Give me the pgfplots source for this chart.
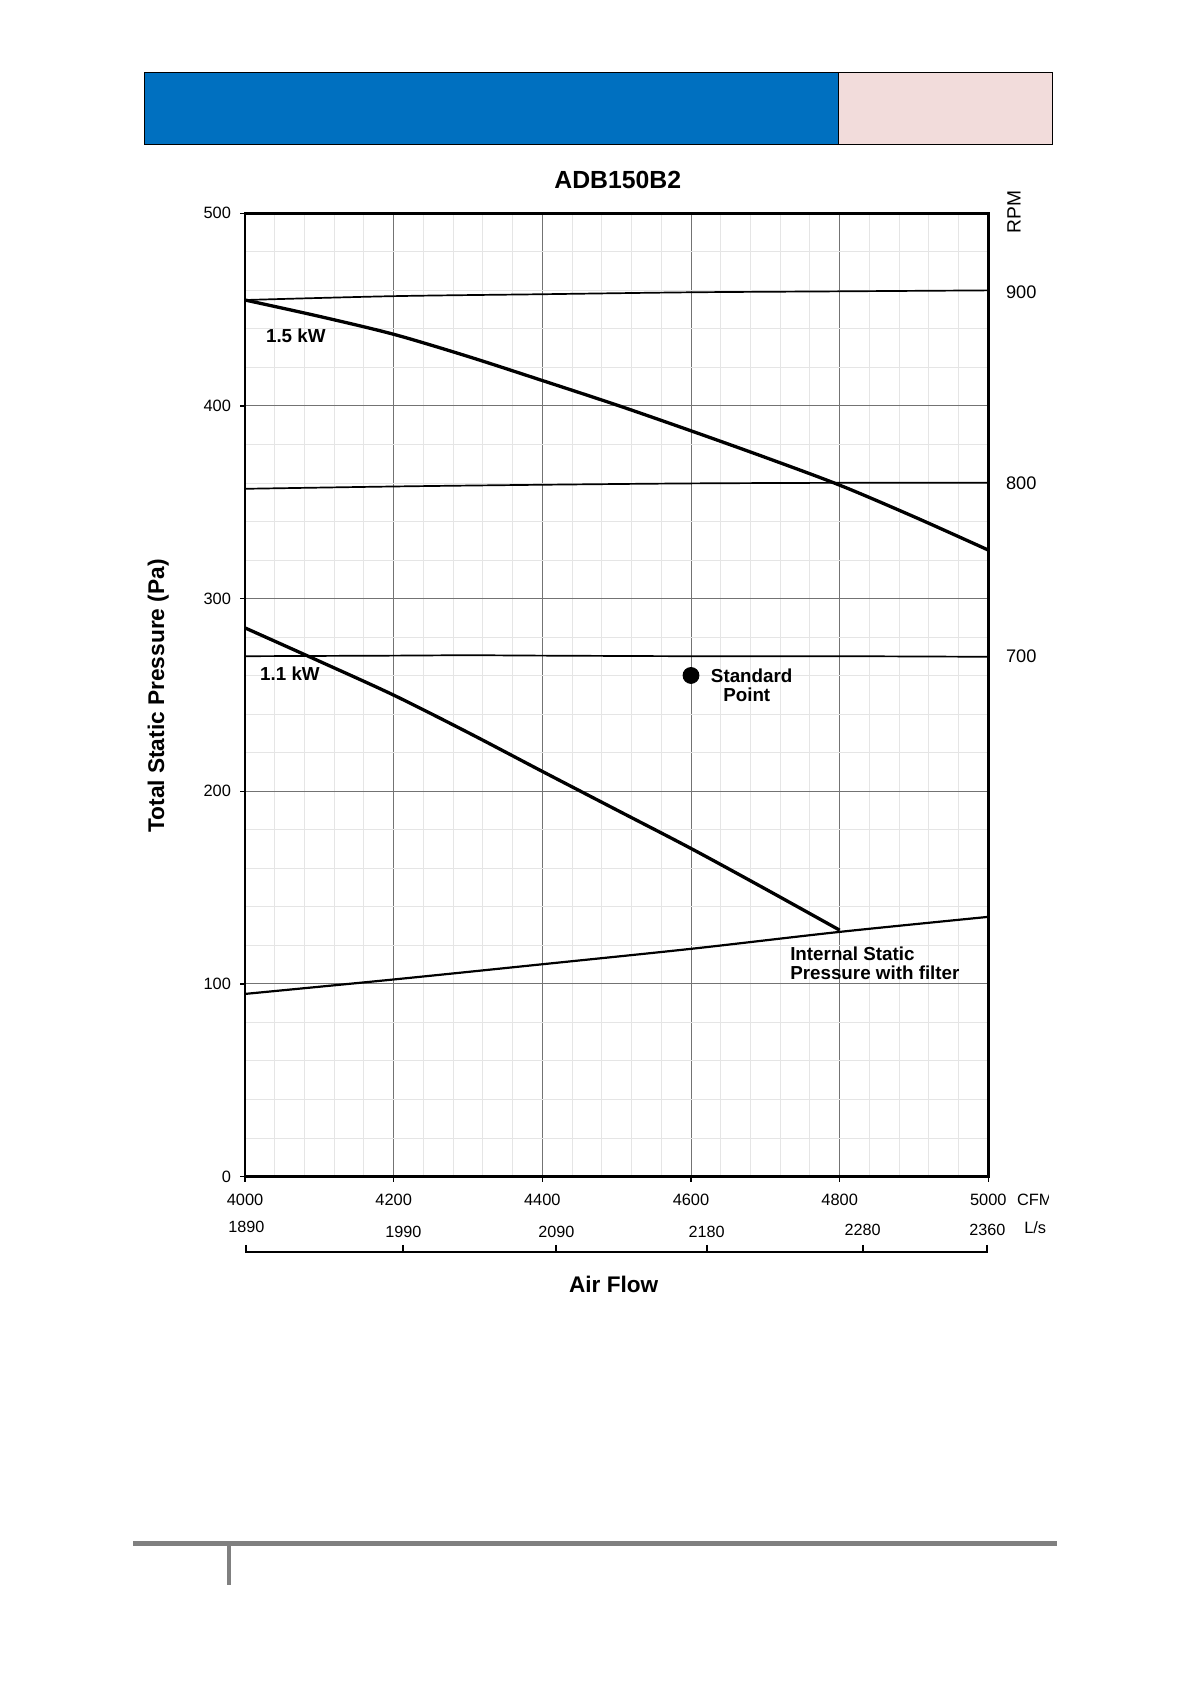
\documentclass[border=0pt]{standalone}
\usepackage{fontspec}
\setmainfont{Liberation Sans}
\usepackage{pgfplots}
\pgfplotsset{compat=1.18}

\definecolor{hdrblue}{RGB}{0,112,192}
\definecolor{hdrpink}{RGB}{242,220,219}
\definecolor{footgray}{RGB}{128,128,128}

\tikzset{lbl/.style={inner sep=0pt, font=\bfseries\fontsize{9.4bp}{11bp}\selectfont}}

\begin{document}
\begin{tikzpicture}

% page frame, header boxes, title and footer (page pixels, origin top left)
\begin{scope}[x=0.5bp,y=-0.5bp]
\path[use as bounding box] (0,0) rectangle (1191,1683);
\draw[fill=hdrblue, line width=0.5bp] (144,72.3) rectangle (838.7,144.3);
\draw[fill=hdrpink, line width=0.5bp] (838.7,72.3) rectangle (1052.7,144.3);
\node[inner sep=0pt, anchor=base, font=\bfseries\fontsize{12.4bp}{14bp}\selectfont]
  at (617.8,188.3) {ADB150B2};
\fill[footgray] (133.3,1541) rectangle (1057,1545.7);
\fill[footgray] (227,1545.7) rectangle (231,1585);
\end{scope}

\begin{axis}[
  at={(122.5bp,-106.65bp)}, anchor=north west,
  width=371.65bp, height=481.6bp, scale only axis,
  xmin=4000, xmax=5000, ymin=0, ymax=500,
  xtick={4000,4200,...,5000}, ytick={0,100,...,500},
  minor x tick num=4, minor y tick num=4,
  grid=both,
  major grid style={black!55, line width=0.5bp},
  minor grid style={black!10, line width=0.5bp},
  axis line style={line width=1.4bp},
  tick align=outside, xtick pos=left, ytick pos=left,
  major tick length=2.5bp, minor tick length=0pt,
  tick style={black, line width=0.6bp},
  every tick label/.append style={font=\fontsize{8.2bp}{9.8bp}\selectfont},
  xticklabel style={yshift=-2.7bp},
  yticklabel style={xshift=-1bp},
  /pgf/number format/assume math mode=true,
  /pgf/number format/1000 sep={},
  clip=false,
]

% RPM lines
\addplot[black, line width=0.85bp, smooth] coordinates {
  (4000,455.0) (4200,457.0) (4400,458.0) (4600,459.0) (4800,459.5) (5000,460.0)};
\addplot[black, line width=0.85bp, smooth] coordinates {
  (4000,357.0) (4200,358.2) (4400,359.1) (4600,359.8) (4800,360.1) (5000,360.1)};
\addplot[black, line width=0.85bp, smooth] coordinates {
  (4000,270.1) (4200,270.4) (4300,270.6) (4400,270.4) (4600,270.1) (4800,270.1) (5000,269.8)};

% motor power curves
\addplot[black, line width=1.65bp, smooth] coordinates {
  (4000,455.0) (4100,446.5) (4200,437.2) (4300,425.7) (4400,413.2) (4500,400.5)
  (4600,387.1) (4700,373.3) (4800,358.9) (4900,342.5) (5000,325.2)};
\addplot[black, line width=1.65bp, smooth] coordinates {
  (4000,284.8) (4100,267.5) (4200,249.9) (4300,230.5) (4400,210.3) (4500,190.3)
  (4600,170.3) (4700,149.3) (4800,127.9)};

% internal static pressure with filter
\addplot[black, line width=1.1bp, smooth] coordinates {
  (4000,94.8) (4200,102.3) (4400,110.2) (4600,118.2) (4800,127.0) (5000,134.8)};

% standard point
\addplot[only marks, mark=*, mark size=4bp, black] coordinates {(4600,260.1)};

\node[lbl, anchor=base] at (axis cs:4068.4,433.0) {1.5 kW};
\node[lbl, anchor=base] at (axis cs:4060.5,257.7) {1.1 kW};
\node[lbl, anchor=base] at (axis cs:4681.7,256.3) {Standard};
\node[lbl, anchor=base] at (axis cs:4675.0,246.4) {Point};
\node[lbl, anchor=base west] at (axis cs:4733,112.3) {Internal Static};
\node[lbl, anchor=base west] at (axis cs:4733,102.5) {Pressure with filter};

% RPM labels on the right
\node[inner sep=0pt, anchor=west, font=\fontsize{9.1bp}{11bp}\selectfont] at (axis cs:5023.4,459.0) {900};
\node[inner sep=0pt, anchor=west, font=\fontsize{9.1bp}{11bp}\selectfont] at (axis cs:5023.4,360.1) {800};
\node[inner sep=0pt, anchor=west, font=\fontsize{9.1bp}{11bp}\selectfont] at (axis cs:5023.4,270.1) {700};
\node[inner sep=0pt, rotate=90, font=\fontsize{9.6bp}{11bp}\selectfont] at (axis cs:5034.6,500.8) {RPM};

% axis titles
\node[inner sep=0pt, rotate=90, anchor=base, font=\bfseries\fontsize{11.35bp}{13bp}\selectfont]
  at (axis cs:3891.3,249.5) {Total Static Pressure (Pa)};
\node[inner sep=0pt, anchor=base, font=\bfseries\fontsize{11.3bp}{13bp}\selectfont]
  at (axis cs:4496,-60.4) {Air Flow};
\node[inner sep=0pt, anchor=base west, font=\fontsize{8.2bp}{9.8bp}\selectfont]
  at (axis cs:5047.8,-29.6) {L/s};
\end{axis}

% secondary L/s scale
\begin{axis}[
  at={(122.5bp,-625.85bp)}, anchor=north west,
  width=371.65bp, height=1bp, scale only axis,
  xmin=4000, xmax=5000, ymin=0, ymax=1,
  axis x line=top, axis y line=none,
  axis line style={-, line width=0.85bp},
  xtick={4001.7,4213,4418.8,4621,4831,4998.7},
  xticklabels={\raisebox{2.65bp}{1890},1990,\raisebox{0.35bp}{2090},2180,\raisebox{1.35bp}{2280},\raisebox{1.35bp}{2360}},
  tick align=outside, major tick length=3.5bp,
  tick style={black, line width=1bp},
  xticklabel style={font=\fontsize{8.1bp}{9.8bp}\selectfont},
  clip=false,
]
\addplot[draw=none] coordinates {(4000,0) (5000,0)};
\end{axis}

% CFM unit, cut at the right as in the scan
\begin{scope}[x=0.5bp,y=-0.5bp]
\clip (1005,1185) rectangle (1048,1215);
\node[inner sep=0pt, anchor=base west, font=\fontsize{8.2bp}{9.8bp}\selectfont]
  at (1016.7,1205.7) {CFM};
\end{scope}

\end{tikzpicture}
\end{document}
